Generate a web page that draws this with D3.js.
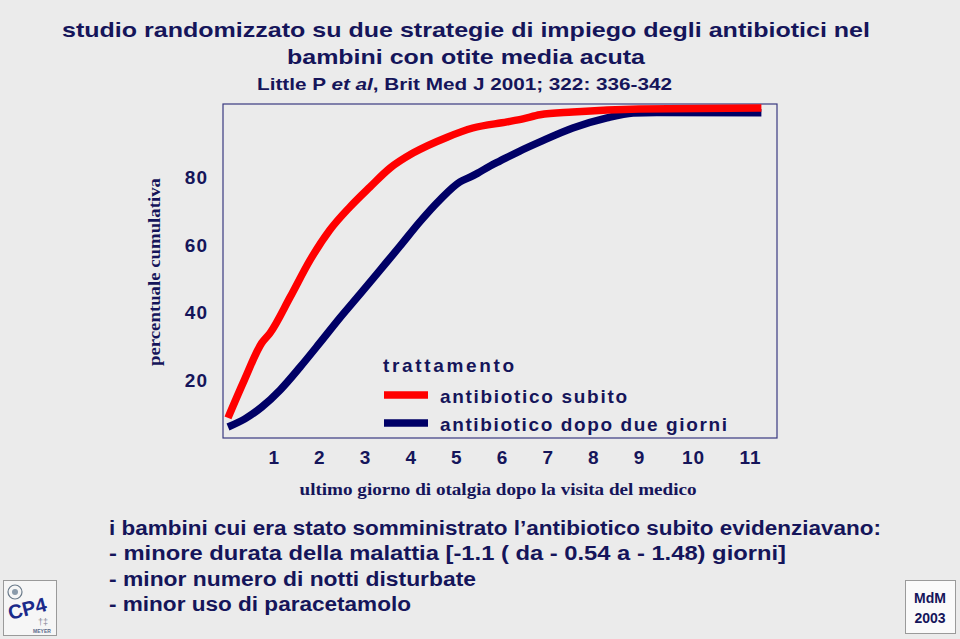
<!DOCTYPE html>
<html>
<head>
<meta charset="utf-8">
<script src="https://cdn.jsdelivr.net/npm/d3@7"></script>
<style>
  body { margin: 0; background: #ebebeb; }
  svg { display: block; }
</style>
</head>
<body>
<div id="chart"></div>
<script>
// dati (giorni, percentuale cumulativa)
var days_subito = [0, 0.35, 0.74, 0.92, 1.36, 1.80, 2.23, 2.67, 3.11, 3.55, 4.05, 4.80, 5.36, 6.11, 6.46, 6.83, 7.55, 9.0, 11.2];
var pct_subito  = [8.6, 19.5, 30.7, 33.6, 44.2, 55.2, 64.0, 70.8, 76.7, 82.3, 86.7, 91.4, 94.1, 95.9, 96.8, 98.0, 98.8, 99.7, 100];

var days_dopo = [0, 0.37, 0.74, 1.14, 1.58, 2.01, 2.45, 2.89, 3.33, 3.77, 4.20, 4.64, 5.08, 5.30, 5.47, 5.74, 5.96, 6.39, 6.83, 7.55, 8.30, 8.87, 9.33, 11.2];
var pct_dopo  = [5.9, 8.3, 11.8, 16.8, 23.6, 30.7, 38.1, 45.1, 52.2, 59.3, 66.4, 72.9, 78.2, 79.6, 80.8, 82.9, 84.4, 87.3, 90.0, 94.1, 97.1, 98.5, 98.7, 98.6];

var x_ticks = [1, 2, 3, 4, 5, 6, 7, 8, 9, 10, 11];
var y_ticks = [20, 40, 60, 80];

var series_names = ["antibiotico subito", "antibiotico dopo due giorni"];
var series_colors = ["#ff0000", "#000066"];

var title_lines = [
    "studio randomizzato su due strategie di impiego degli antibiotici nel",
    "bambini con otite media acuta"
];
var note_lines = [
    "i bambini cui era stato somministrato l\u2019antibiotico subito evidenziavano:",
    "- minore durata della malattia [-1.1 ( da - 0.54 a - 1.48) giorni]",
    "- minor numero di notti disturbate",
    "- minor uso di paracetamolo"
];

var width = 960;
var height = 639;
var navy = "#15155a";
var sans = "'Liberation Sans', Arial, Helvetica, sans-serif";
var serif = "'Liberation Serif', 'Times New Roman', serif";

var svg = d3.select("#chart")
    .append("svg")
    .attr("width", width)
    .attr("height", height);

svg.append("rect")
    .attr("width", width)
    .attr("height", height)
    .attr("fill", "#ebebeb");

// titolo
var title_widths = [808, 358];
svg.append("g").selectAll("text")
    .data(title_lines)
    .enter()
    .append("text")
    .attr("x", 466)
    .attr("y", function(d, i) { return 37 + i * 27; })
    .attr("text-anchor", "middle")
    .attr("font-family", sans)
    .attr("font-weight", "bold")
    .attr("font-size", 21)
    .attr("fill", navy)
    .attr("textLength", function(d, i) { return title_widths[i]; })
    .attr("lengthAdjust", "spacingAndGlyphs")
    .text(function(d) { return d; });

var cite = svg.append("text")
    .attr("x", 257)
    .attr("y", 90)
    .attr("font-family", sans)
    .attr("font-weight", "bold")
    .attr("font-size", 17)
    .attr("fill", navy)
    .attr("textLength", 415)
    .attr("lengthAdjust", "spacingAndGlyphs");
cite.append("tspan").text("Little P ");
cite.append("tspan").attr("font-style", "italic").text("et al");
cite.append("tspan").text(", Brit Med J 2001; 322: 336-342");

// scale
var x_scale = d3.scaleLinear()
    .domain([0, 9, 10, 11])
    .range([228, 639, 693, 750]);

var y_scale = d3.scaleLinear()
    .domain([0, 100])
    .range([447, 108]);

// riquadro
svg.append("rect")
    .attr("x", 223)
    .attr("y", 104)
    .attr("width", 554)
    .attr("height", 334)
    .attr("fill", "none")
    .attr("stroke", "#3a3a80")
    .attr("stroke-width", 1.2);

// assi
var y_axis = d3.axisLeft(y_scale)
    .tickValues(y_ticks)
    .tickSize(0)
    .tickPadding(0);

var x_axis = d3.axisBottom(x_scale)
    .tickValues(x_ticks)
    .tickSize(0)
    .tickPadding(4);

var gy = svg.append("g")
    .attr("class", "y-axis")
    .attr("transform", "translate(208,1.5)")
    .call(y_axis);

var gx = svg.append("g")
    .attr("class", "x-axis")
    .attr("transform", "translate(0,447)")
    .call(x_axis);

[gx, gy].forEach(function(g) {
    g.select(".domain").remove();
    g.selectAll("text")
        .attr("font-family", sans)
        .attr("font-weight", "bold")
        .attr("font-size", 19)
        .attr("letter-spacing", 1)
        .attr("fill", navy);
});

svg.append("text")
    .attr("transform", "translate(160,272) rotate(-90)")
    .attr("text-anchor", "middle")
    .attr("font-family", serif)
    .attr("font-weight", "bold")
    .attr("font-size", 17)
    .attr("fill", navy)
    .attr("textLength", 188)
    .attr("lengthAdjust", "spacingAndGlyphs")
    .text("percentuale cumulativa");

svg.append("text")
    .attr("x", 498)
    .attr("y", 495)
    .attr("text-anchor", "middle")
    .attr("font-family", serif)
    .attr("font-weight", "bold")
    .attr("font-size", 17)
    .attr("fill", navy)
    .attr("textLength", 397)
    .attr("lengthAdjust", "spacingAndGlyphs")
    .text("ultimo giorno di otalgia dopo la visita del medico");

// curve
var line = d3.line()
    .x(function(d) { return x_scale(d[0]); })
    .y(function(d) { return y_scale(d[1]); })
    .curve(d3.curveMonotoneX);

var series = [
    d3.zip(days_subito, pct_subito),
    d3.zip(days_dopo, pct_dopo)
];

// prima la curva blu, poi la rossa sopra
[1, 0].forEach(function(i) {
    svg.append("path")
        .datum(series[i])
        .attr("d", line)
        .attr("fill", "none")
        .attr("stroke", series_colors[i])
        .attr("stroke-width", 7.5)
        .attr("stroke-linejoin", "round");
});

// legenda
var legend = svg.append("g");
legend.append("text")
    .attr("x", 383)
    .attr("y", 372)
    .attr("font-family", sans)
    .attr("font-weight", "bold")
    .attr("font-size", 19)
    .attr("fill", navy)
    .attr("textLength", 131)
    .attr("lengthAdjust", "spacing")
    .text("trattamento");

var legend_widths = [187, 287];
legend.selectAll("line")
    .data(series_names)
    .enter()
    .append("line")
    .attr("x1", 384)
    .attr("x2", 428)
    .attr("y1", function(d, i) { return 395 + i * 28; })
    .attr("y2", function(d, i) { return 395 + i * 28; })
    .attr("stroke", function(d, i) { return series_colors[i]; })
    .attr("stroke-width", 7.5);

legend.selectAll("text.item")
    .data(series_names)
    .enter()
    .append("text")
    .attr("class", "item")
    .attr("x", 440)
    .attr("y", function(d, i) { return 403 + i * 28; })
    .attr("font-family", sans)
    .attr("font-weight", "bold")
    .attr("font-size", 19)
    .attr("fill", navy)
    .attr("textLength", function(d, i) { return legend_widths[i]; })
    .attr("lengthAdjust", "spacing")
    .text(function(d) { return d; });

// note in basso
var note_widths = [772, 677, 367, 302];
svg.append("g").selectAll("text")
    .data(note_lines)
    .enter()
    .append("text")
    .attr("x", 109)
    .attr("y", function(d, i) { return 535 + i * 25.3; })
    .attr("font-family", sans)
    .attr("font-weight", "bold")
    .attr("font-size", 20)
    .attr("fill", navy)
    .attr("textLength", function(d, i) { return note_widths[i]; })
    .attr("lengthAdjust", "spacingAndGlyphs")
    .text(function(d) { return d; });

// logo sinistro
var logo = svg.append("g");
logo.append("rect")
    .attr("x", 3.5).attr("y", 580.5)
    .attr("width", 53).attr("height", 55)
    .attr("fill", "#f6f6f6")
    .attr("stroke", "#9a9a9a");
logo.append("circle")
    .attr("cx", 15).attr("cy", 592).attr("r", 7)
    .attr("fill", "none")
    .attr("stroke", "#6a7a8a")
    .attr("stroke-width", 1.2);
logo.append("circle")
    .attr("cx", 15).attr("cy", 592).attr("r", 3)
    .attr("fill", "#8a9aaa");
logo.append("text")
    .attr("transform", "translate(10,620) rotate(-14)")
    .attr("font-family", sans)
    .attr("font-weight", "bold")
    .attr("font-size", 20)
    .attr("fill", "#1a2a8a")
    .text("CP4");
logo.append("text")
    .attr("x", 43).attr("y", 625)
    .attr("text-anchor", "middle")
    .attr("font-family", sans)
    .attr("font-size", 9)
    .attr("fill", "#8a8a9a")
    .text("\u2020\u2021");
logo.append("text")
    .attr("x", 42).attr("y", 633)
    .attr("text-anchor", "middle")
    .attr("font-family", sans)
    .attr("font-weight", "bold")
    .attr("font-size", 5)
    .attr("fill", "#5a6a8a")
    .text("MEYER");

// logo destro
var mdm = svg.append("g");
mdm.append("rect")
    .attr("x", 905.5).attr("y", 580.5)
    .attr("width", 50).attr("height", 53)
    .attr("fill", "#fafafa")
    .attr("stroke", "#9a9a9a");
mdm.selectAll("text")
    .data(["MdM", "2003"])
    .enter()
    .append("text")
    .attr("x", 930)
    .attr("y", function(d, i) { return 603 + i * 20; })
    .attr("text-anchor", "middle")
    .attr("font-family", sans)
    .attr("font-weight", "bold")
    .attr("font-size", 14)
    .attr("fill", navy)
    .text(function(d) { return d; });
</script>
</body>
</html>
